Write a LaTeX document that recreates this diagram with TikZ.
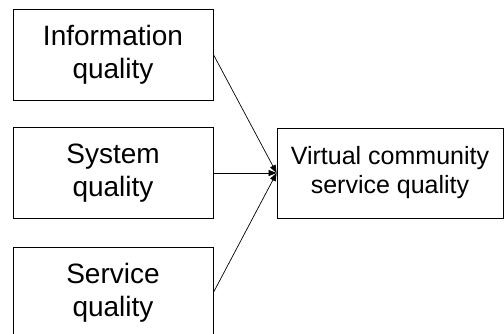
\documentclass[tikz,border=0pt]{standalone}
\usepackage{fontspec}
\setmainfont{Liberation Sans}
\usetikzlibrary{arrows.meta}
\begin{document}
\begin{tikzpicture}[x=1bp,y=-1bp,
  leftbox/.style={draw,line width=0.8bp,minimum width=200bp,minimum height=91bp,inner sep=0pt,align=center,font=\fontsize{28bp}{33bp}\selectfont},
  rightbox/.style={draw,line width=0.8bp,minimum width=226bp,minimum height=90bp,inner sep=0pt,align=center,font=\fontsize{25bp}{29bp}\selectfont},
  conn/.style={line width=0.7bp,-{Triangle[length=8bp,width=6bp]}}]
\useasboundingbox (0,0) rectangle (504,333);
\node[leftbox] (info) at (113,54.5) {Information\\quality};
\node[leftbox] (sys) at (113,173) {System\\quality};
\node[leftbox] (serv) at (113,292.5) {Service\\quality};
\node[rightbox] (vcsq) at (390,173) {Virtual community\\service quality};
\draw[conn] (info.east) -- (vcsq.west);
\draw[conn] (sys.east) -- (vcsq.west);
\draw[conn] (serv.east) -- (vcsq.west);
\end{tikzpicture}
\end{document}
